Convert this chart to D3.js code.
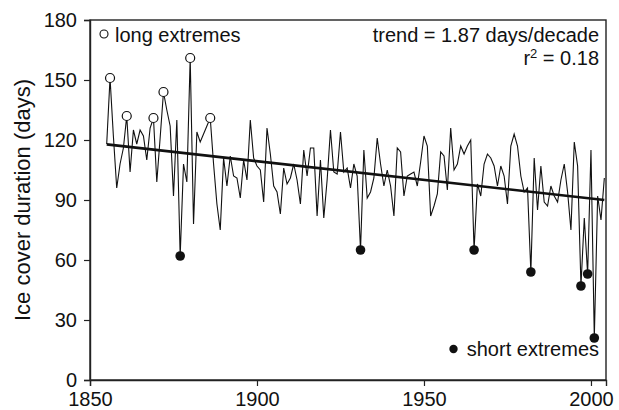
<!DOCTYPE html>
<html>
<head>
<meta charset="utf-8">
<script src="https://cdn.jsdelivr.net/npm/d3@7"></script>
<style>
  html, body { margin: 0; padding: 0; background: #fff; }
  svg { display: block; font-family: "Liberation Sans", Arial, Helvetica, sans-serif; }
</style>
</head>
<body>
<svg id="chart" width="619" height="410"></svg>
<script>
// ---- data ----
const startYear = 1855;
const durations = [
  118,151,122,96,108,116,132,104,125,118,   // 1855-1864
  125,122,110,126,131,99,121,144,135,127,   // 1865-1874
  92,130,62,108,99,161,78,124,119,123,      // 1875-1884
  127,131,108,88,75,111,97,112,102,101,     // 1885-1894
  91,110,100,130,111,107,105,89,126,113,    // 1895-1904
  97,94,83,106,98,101,108,100,88,115,       // 1905-1914
  102,116,116,82,110,81,100,125,104,103,    // 1915-1924
  124,104,106,96,108,102,65,115,91,94,      // 1925-1934
  101,121,108,97,105,97,82,116,114,92,      // 1935-1944
  102,103,104,97,109,122,117,82,87,93,      // 1945-1954
  114,112,95,126,105,108,117,113,117,120,   // 1955-1964
  65,98,92,108,113,111,107,97,107,102,      // 1965-1974
  88,117,123,117,102,94,96,54,111,85,       // 1975-1984
  107,89,87,97,92,89,100,108,94,75,         // 1985-1994
  119,107,47,81,53,115,21,92,80,101         // 1995-2004
];
const years = durations.map((d, i) => startYear + i);
const longExtremeYears = [1856, 1861, 1869, 1872, 1880, 1886];
const shortExtremeYears = [1877, 1931, 1965, 1982, 1997, 1999, 2001];
const trendYears = [1855, 2004];
const trendValues = [117.8, 90];
const xTicks = [1850, 1900, 1950, 2000];
const yTicks = [0, 30, 60, 90, 120, 150, 180];
const trendLabel = "trend = 1.87 days/decade";
const r2Value = "0.18";
const yAxisLabel = "Ice cover duration (days)";

(function () {
// ---- layout ----
const svg = d3.select("#chart");
const mLeft = 90, mRight = 606, mTop = 20, mBottom = 380;
const x = d3.scaleLinear().domain([1850, 2004.5]).range([mLeft, mRight]);
const y = d3.scaleLinear().domain([0, 180]).range([mBottom, mTop]);
const valueOf = yr => durations[yr - startYear];
const fontSize = 20;

// frame
svg.append("rect")
  .attr("x", mLeft).attr("y", mTop)
  .attr("width", mRight - mLeft).attr("height", mBottom - mTop)
  .attr("fill", "none").attr("stroke", "#222").attr("stroke-width", 1.4);

// axes
const xAxis = svg.append("g")
  .attr("transform", `translate(0,${mBottom})`)
  .call(d3.axisBottom(x).tickValues(xTicks).tickFormat(d3.format("d")).tickSize(6).tickPadding(6));
const yAxis = svg.append("g")
  .attr("transform", `translate(${mLeft},0)`)
  .call(d3.axisLeft(y).tickValues(yTicks).tickSize(6).tickPadding(7));
[xAxis, yAxis].forEach(g => {
  g.select(".domain").attr("stroke", "#222").attr("stroke-width", 1.4);
  g.selectAll(".tick line").attr("stroke", "#222").attr("stroke-width", 1.2);
  g.selectAll(".tick text")
    .attr("fill", "#111")
    .style("font-size", fontSize + "px")
    .style("font-family", "'Liberation Sans', Arial, Helvetica, sans-serif");
});

// y label
svg.append("text")
  .attr("transform", `translate(30,${(mTop + mBottom) / 2}) rotate(-90)`)
  .attr("text-anchor", "middle")
  .attr("fill", "#111")
  .style("font-size", "22px")
  .text(yAxisLabel);

// series line
const line = d3.line().x(d => x(d[0])).y(d => y(d[1]));
svg.append("path")
  .datum(years.map((yr, i) => [yr, durations[i]]))
  .attr("d", line)
  .attr("fill", "none")
  .attr("stroke", "#111")
  .attr("stroke-width", 1.1)
  .attr("stroke-linejoin", "miter");

// trend line
svg.append("path")
  .datum(trendYears.map((yr, i) => [yr, trendValues[i]]))
  .attr("d", line)
  .attr("fill", "none")
  .attr("stroke", "#111")
  .attr("stroke-width", 2.6);

// extremes
svg.append("g").selectAll("circle")
  .data(longExtremeYears)
  .join("circle")
  .attr("cx", d => x(d)).attr("cy", d => y(valueOf(d)))
  .attr("r", 4.5)
  .attr("fill", "#fff").attr("stroke", "#111").attr("stroke-width", 1.2);
svg.append("g").selectAll("circle")
  .data(shortExtremeYears)
  .join("circle")
  .attr("cx", d => x(d)).attr("cy", d => y(valueOf(d)))
  .attr("r", 4.8)
  .attr("fill", "#111");

// legend: long extremes
svg.append("circle").attr("cx", 104).attr("cy", 34).attr("r", 4)
  .attr("fill", "#fff").attr("stroke", "#111").attr("stroke-width", 1.1);
svg.append("text").attr("x", 115).attr("y", 41.5)
  .attr("fill", "#111").style("font-size", fontSize + "px").text("long extremes");

// legend: short extremes
svg.append("text").attr("x", 599).attr("y", 355.5).attr("text-anchor", "end")
  .attr("fill", "#111").style("font-size", fontSize + "px").text("short extremes");
svg.append("circle").attr("cx", 453.5).attr("cy", 349).attr("r", 4.2).attr("fill", "#111");

// trend annotation
svg.append("text").attr("x", 599).attr("y", 41.5).attr("text-anchor", "end")
  .attr("fill", "#111").style("font-size", fontSize + "px").text(trendLabel);
const r2 = svg.append("text").attr("x", 599).attr("y", 65).attr("text-anchor", "end")
  .attr("fill", "#111").style("font-size", fontSize + "px");
r2.append("tspan").text("r");
r2.append("tspan").attr("dy", -7).style("font-size", "13px").text("2");
r2.append("tspan").attr("dy", 7).text(" = " + r2Value);
})();
</script>
</body>
</html>
